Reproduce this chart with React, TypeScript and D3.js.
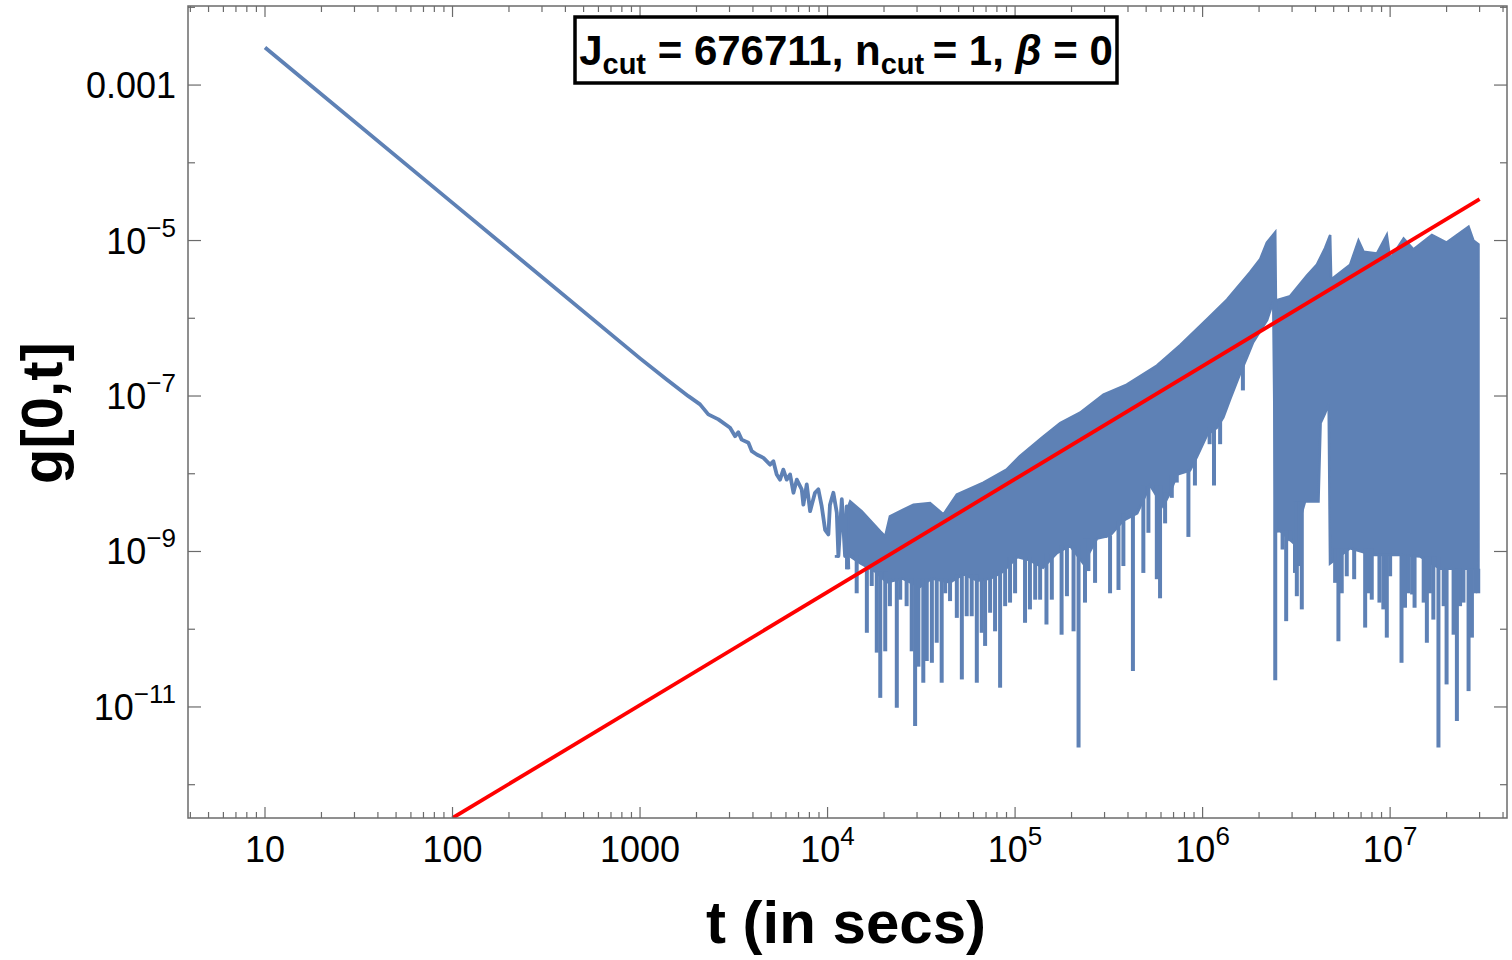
import React, { useEffect, useRef } from "react";
import * as d3 from "d3";

// smooth power-law decay and the first wiggles (t in secs, g[0,t])
const smoothT = [10, 100, 1000, 1387, 1811, 2089, 2312, 2617, 3020, 3213, 3343, 3483, 3784, 3945, 4190, 4550, 4936, 5140, 5355, 5580, 5808, 6053, 6310, 6577, 6855, 7280, 7430, 7745, 8070, 8570, 8930, 9310, 9700, 10100, 10300, 10740, 11200, 11420, 11910, 12400, 12650, 12900];
const smoothG = [3.05e-3, 3.05e-5, 3.05e-7, 1.63e-7, 9.96e-8, 7.8e-8, 5.8e-8, 5.0e-8, 3.9e-8, 3.04e-8, 3.42e-8, 2.75e-8, 2.5e-8, 1.95e-8, 1.77e-8, 1.6e-8, 1.31e-8, 1.45e-8, 9.8e-9, 8.4e-9, 1.13e-8, 8.4e-9, 9.8e-9, 5.7e-9, 8.4e-9, 6.3e-9, 4.0e-9, 7.3e-9, 3.3e-9, 5.7e-9, 6.3e-9, 3.8e-9, 1.9e-9, 1.66e-9, 4.0e-9, 5.7e-9, 3.15e-9, 8.7e-10, 4.7e-9, 8.7e-10, 3.8e-9, 5.9e-10];

// upper envelope of the dense oscillating band
const topT = [1.29e4, 1.32e4, 1.52e4, 1.91e4, 2.03e4, 2.15e4, 2.34e4, 2.87e4, 3.52e4, 4.15e4, 4.89e4, 6.78e4, 9.0e4, 1.06e5, 1.39e5, 1.74e5, 2.22e5, 2.96e5, 3.94e5, 5.71e5, 7.59e5, 1.06e6, 1.35e6, 1.79e6, 2.03e6, 2.2e6, 2.44e6, 2.46e6, 2.93e6, 3.6e6, 4.07e6, 4.5e6, 4.79e6, 4.85e6, 6.12e6, 6.78e6, 7.21e6, 8.5e6, 9.6e6, 1.0e7, 1.18e7, 1.33e7, 1.67e7, 2.0e7, 2.62e7, 2.78e7, 2.96e7];
const topG = [3.8e-9, 4.4e-9, 3.3e-9, 1.82e-9, 1.57e-9, 2.84e-9, 3.15e-9, 4.0e-9, 4.2e-9, 3.0e-9, 5.4e-9, 7.7e-9, 1.13e-8, 1.68e-8, 2.9e-8, 4.5e-8, 6.1e-8, 1.04e-7, 1.4e-7, 2.47e-7, 4.5e-7, 9.8e-7, 1.74e-6, 3.9e-6, 5.8e-6, 9.4e-6, 1.28e-5, 1.7e-6, 1.93e-6, 3.55e-6, 4.9e-6, 8.0e-6, 1.18e-5, 3.15e-6, 4.9e-6, 1.0e-5, 7.2e-6, 6.8e-6, 1.18e-5, 5.8e-6, 1.06e-5, 7.7e-6, 1.18e-5, 9.4e-6, 1.5e-5, 1.0e-5, 8.95e-6];

// lower edge of the solid part of the band
const botT = [1.29e4, 1.5e4, 1.8e4, 2.07e4, 2.5e4, 3.1e4, 3.6e4, 4.5e4, 5.3e4, 6.3e4, 7.4e4, 8.6e4, 1.03e5, 1.2e5, 1.41e5, 1.67e5, 1.96e5, 2.31e5, 2.74e5, 3.21e5, 3.77e5, 4.48e5, 5.25e5, 6.15e5, 6.71e5, 7.31e5, 8.57e5, 9.35e5, 1.06e6, 1.19e6, 1.29e6, 1.4e6, 1.58e6, 1.73e6, 1.86e6, 2.21e6, 2.38e6, 2.45e6, 2.59e6, 3.04e6, 3.52e6, 4.15e6, 4.26e6, 4.5e6, 4.7e6, 4.78e6, 6.12e6, 8.11e6, 1.13e7, 1.45e7, 1.85e7, 2.36e7, 2.96e7];
const botG = [9.0e-10, 7.0e-10, 5.5e-10, 4.0e-10, 4.5e-10, 3.5e-10, 4.5e-10, 4.0e-10, 5.1e-10, 4.2e-10, 4.5e-10, 5.5e-10, 8.5e-10, 7.7e-10, 6.2e-10, 9.5e-10, 1.19e-9, 7.0e-10, 1.47e-9, 1.6e-9, 2.5e-9, 3.1e-9, 7.1e-9, 3.8e-9, 5.7e-9, 9.8e-9, 1.1e-8, 1.67e-8, 3.2e-8, 3.9e-8, 5.3e-8, 9.0e-8, 1.9e-7, 3.2e-7, 4.9e-7, 9.5e-7, 1.64e-6, 1.8e-9, 1.84e-9, 1.3e-9, 4.4e-9, 4.4e-9, 4.5e-8, 6.0e-8, 8.0e-8, 7.0e-10, 1.1e-9, 9.0e-10, 9.0e-10, 8.6e-10, 6.0e-10, 6.0e-10, 6.0e-10];

// strokes reaching below the band (time, minimum)
const spikeT = [1.12e4, 1.27e4, 1.35e4, 1.43e4, 1.62e4, 1.72e4, 1.83e4, 1.91e4, 2.03e4, 2.15e4, 2.34e4, 2.44e4, 2.64e4, 2.81e4, 2.93e4, 3.05e4, 3.24e4, 3.38e4, 3.6e4, 3.82e4, 4.06e4, 4.24e4, 4.5e4, 4.89e4, 5.2e4, 5.52e4, 5.87e4, 6.25e4, 6.64e4, 6.92e4, 7.36e4, 7.82e4, 8.32e4, 8.85e4,
  9.4e4, 1.0e5, 1.13e5, 1.2e5, 1.28e5, 1.36e5, 1.47e5, 1.57e5, 1.77e5, 1.89e5, 2.05e5, 2.18e5, 2.36e5, 2.46e5, 2.67e5, 3.02e5, 3.21e5, 3.56e5, 3.78e5, 4.25e5, 4.83e5, 5.14e5, 5.7e5, 5.93e5, 6.31e5, 6.85e5, 7.28e5,
  8.4e5, 9.1e5, 1.09e6, 1.15e6, 1.24e6, 1.64e6,
  2.44e6, 2.67e6, 2.79e6, 2.93e6, 3.11e6, 3.18e6, 3.28e6, 3.38e6, 5.09e6, 5.3e6, 5.52e6, 5.87e6, 6.43e6, 7.36e6, 7.66e6, 7.98e6, 8.77e6, 9.2e6, 9.6e6, 1.0e7, 1.15e7, 1.2e7, 1.25e7, 1.31e7, 1.35e7, 1.51e7, 1.57e7, 1.63e7, 1.7e7, 1.81e7, 1.93e7, 2.0e7, 2.18e7, 2.27e7, 2.36e7, 2.46e7, 2.62e7, 2.73e7, 2.84e7, 2.95e7];
const spikeG = [8.3e-10, 5.9e-10, 9.1e-10, 2.9e-10, 9.0e-11, 3.6e-10, 5.0e-11, 1.31e-11, 5.2e-11, 1.98e-10, 9.8e-12, 2.4e-10, 1.98e-10, 5.2e-11, 5.7e-12, 3.3e-11, 2.05e-11, 3.9e-11, 3.7e-11, 6.7e-11, 2.05e-11, 2.9e-10, 2.3e-10, 1.4e-10, 2.26e-11, 1.47e-10, 1.47e-10, 2.05e-11, 9.0e-11, 6.1e-11, 1.63e-10, 9.4e-11, 1.77e-11, 1.98e-10,
  2.2e-10, 2.9e-10, 1.21e-10, 1.8e-10, 2.4e-10, 2.4e-10, 1.15e-10, 2.4e-10, 8.5e-11, 2.66e-10, 9.4e-11, 3.0e-12, 2.2e-10, 5.6e-10, 3.95e-10, 1.5e-9, 2.9e-10, 3.2e-10, 6.5e-10, 2.9e-11, 5.3e-10, 1.74e-9, 4.4e-10, 2.5e-10, 2.3e-9, 4.9e-9, 7.7e-9,
  1.54e-9, 7.06e-9, 2.4e-8, 7.06e-9, 2.4e-8, 1.18e-7,
  2.2e-11, 1.06e-9, 1.27e-10, 1.36e-9, 5.3e-10, 2.66e-10, 6.5e-10, 1.8e-10, 3.95e-10, 7.0e-11, 2.9e-10, 4.8e-10, 4.4e-10, 1.05e-10, 2.9e-10, 2.4e-10, 2.2e-10, 1.8e-10, 7.8e-11, 4.8e-10, 3.7e-11, 1.89e-10, 2.9e-10, 2.8e-10, 1.89e-10, 2.2e-10, 6.7e-11, 2.9e-10, 1.33e-10, 3.0e-12, 1.98e-10, 1.95e-11, 8.5e-11, 6.6e-12, 1.98e-10, 2.2e-10, 1.6e-11, 7.8e-11, 2.9e-10, 2.9e-10];

// red reference power law
const redT = [100, 3.0e7];
const redG = [3.73e-13, 3.4e-5];

const xTicks = [10, 100, 1000, 1e4, 1e5, 1e6, 1e7];
const xTickText = ["10", "100", "1000", "10^4", "10^5", "10^6", "10^7"];
const yTicks = [1e-3, 1e-5, 1e-7, 1e-9, 1e-11];
const yTickText = ["0.001", "10^\u22125", "10^\u22127", "10^\u22129", "10^\u221211"];

const W = 1512;
const H = 960;
const left = 188, right = 1507, top = 6, bottom = 818;
const blue = "#5E81B5";
const frameCol = "#6b6b6b";
const font = "'Liberation Sans', Arial, Helvetica, sans-serif";

export default function App() {
  const svgRef = useRef<SVGSVGElement | null>(null);

  useEffect(() => {
    document.body.style.margin = "0";
    const svg = d3.select(svgRef.current);
    svg.selectAll("*").remove();

    const x = d3.scaleLog().domain([3.885, 4.2e7]).range([left, right]);
    const y = d3.scaleLog().domain([3.73e-13, 1.04e-2]).range([bottom, top]);

    svg.append("defs").append("clipPath").attr("id", "plotclip")
      .append("rect").attr("x", left).attr("y", top)
      .attr("width", right - left).attr("height", bottom - top);

    const plot = svg.append("g").attr("clip-path", "url(#plotclip)");

    const line = d3.line<[number, number]>().x(d => x(d[0])).y(d => y(d[1]));

    // smooth part
    plot.append("path")
      .attr("d", line(smoothT.map((t, i) => [t, smoothG[i]] as [number, number])))
      .attr("fill", "none").attr("stroke", blue).attr("stroke-width", 3.8)
      .attr("stroke-linejoin", "round");

    // band as polygon: upper envelope forward, lower edge back
    const poly: [number, number][] = [
      ...topT.map((t, i) => [t, topG[i]] as [number, number]),
      ...botT.map((t, i) => [t, botG[i]] as [number, number]).reverse(),
    ];
    plot.append("path")
      .attr("d", line(poly) + "Z")
      .attr("fill", blue).attr("stroke", blue).attr("stroke-width", 2.5)
      .attr("stroke-linejoin", "miter");

    // strokes hang from the band
    const bis = d3.bisector((d: number) => d).left;
    const sp = plot.append("g").attr("stroke", blue).attr("stroke-width", 4);
    spikeT.forEach((t, i) => {
      const j = Math.max(1, Math.min(bis(botT, t), botT.length - 1));
      const hi = Math.max(botG[j - 1], botG[j]);
      sp.append("line")
        .attr("x1", x(t)).attr("x2", x(t))
        .attr("y1", y(spikeG[i])).attr("y2", y(hi));
    });

    // red line
    plot.append("path")
      .attr("d", line(redT.map((t, i) => [t, redG[i]] as [number, number])))
      .attr("fill", "none").attr("stroke", "#ff0000").attr("stroke-width", 3.8);

    // frame
    svg.append("rect")
      .attr("x", left).attr("y", top).attr("width", right - left).attr("height", bottom - top)
      .attr("fill", "none").attr("stroke", frameCol).attr("stroke-width", 1.5);

    // ticks on all four sides
    const tk = svg.append("g").attr("stroke", frameCol).attr("stroke-width", 1.2);
    const xMinor: number[] = [];
    for (let e = 0; e <= 7; e++) for (let k = 2; k <= 9; k++) {
      const v = k * Math.pow(10, e);
      if (v >= 3.885 && v <= 4.2e7) xMinor.push(v);
    }
    xMinor.forEach(v => {
      tk.append("line").attr("x1", x(v)).attr("x2", x(v)).attr("y1", bottom).attr("y2", bottom - 6);
      tk.append("line").attr("x1", x(v)).attr("x2", x(v)).attr("y1", top).attr("y2", top + 6);
    });
    xTicks.forEach(v => {
      tk.append("line").attr("x1", x(v)).attr("x2", x(v)).attr("y1", bottom).attr("y2", bottom - 11);
      tk.append("line").attr("x1", x(v)).attr("x2", x(v)).attr("y1", top).attr("y2", top + 11);
    });
    const yMinor = [1e-2, 1e-4, 1e-6, 1e-8, 1e-10, 1e-12];
    yMinor.forEach(v => {
      tk.append("line").attr("x1", left).attr("x2", left + 7).attr("y1", y(v)).attr("y2", y(v));
      tk.append("line").attr("x1", right).attr("x2", right - 7).attr("y1", y(v)).attr("y2", y(v));
    });
    yTicks.forEach(v => {
      tk.append("line").attr("x1", left).attr("x2", left + 13).attr("y1", y(v)).attr("y2", y(v));
      tk.append("line").attr("x1", right).attr("x2", right - 13).attr("y1", y(v)).attr("y2", y(v));
    });

    // tick labels
    const addLabel = (g: d3.Selection<SVGTextElement, unknown, null, undefined>, s: string) => {
      const [base, sup] = s.split("^");
      g.append("tspan").text(base);
      if (sup) g.append("tspan").attr("dy", -17).attr("font-size", 26).text(sup);
    };
    xTicks.forEach((v, i) => {
      const t = svg.append("text").attr("x", x(v)).attr("y", 862)
        .attr("text-anchor", "middle").attr("font-family", font).attr("font-size", 36).attr("fill", "#000");
      addLabel(t, xTickText[i]);
    });
    yTicks.forEach((v, i) => {
      const t = svg.append("text").attr("x", 176).attr("y", y(v) + 13)
        .attr("text-anchor", "end").attr("font-family", font).attr("font-size", 36).attr("fill", "#000");
      addLabel(t, yTickText[i]);
    });

    // axis titles
    svg.append("text").attr("x", 846).attr("y", 943).attr("text-anchor", "middle")
      .attr("font-family", font).attr("font-weight", "bold").attr("font-size", 60)
      .text("t (in secs)");
    svg.append("text").attr("transform", "translate(62,413) rotate(-90)").attr("text-anchor", "middle")
      .attr("font-family", font).attr("font-weight", "bold").attr("font-size", 58)
      .text("g[0,t]");

    // title box
    svg.append("rect").attr("x", 575).attr("y", 17).attr("width", 542).attr("height", 66)
      .attr("fill", "#fff").attr("stroke", "#000").attr("stroke-width", 3.5);
    const tt = svg.append("text").attr("x", 846).attr("y", 65).attr("text-anchor", "middle")
      .attr("font-family", font).attr("font-weight", "bold").attr("font-size", 42);
    tt.append("tspan").text("J");
    tt.append("tspan").attr("font-size", 29).attr("dy", 9).text("cut");
    tt.append("tspan").attr("dy", -9).text(" = 676711, n");
    tt.append("tspan").attr("font-size", 29).attr("dy", 9).text("cut");
    tt.append("tspan").attr("dy", -9).text("\u2009= 1, ");
    tt.append("tspan").attr("font-style", "italic").text("\u03b2");
    tt.append("tspan").text(" = 0");
  }, []);

  return <svg ref={svgRef} width={W} height={H} style={{ display: "block", background: "#fff" }} />;
}
